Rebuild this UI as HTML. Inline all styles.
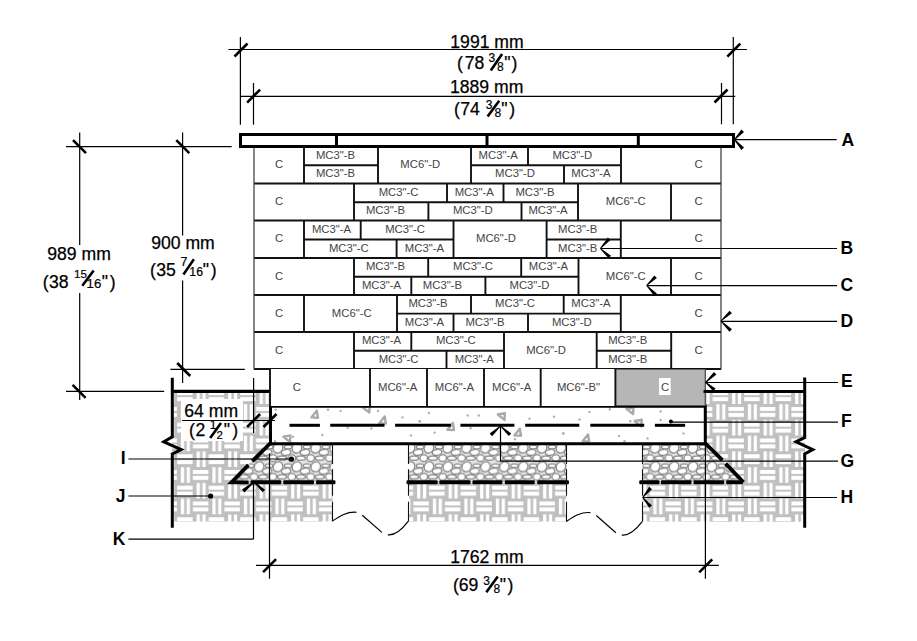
<!DOCTYPE html><html><head><meta charset="utf-8"><style>html,body{margin:0;padding:0;background:#fff;width:917px;height:641px;overflow:hidden}svg{display:block}text{font-family:"Liberation Sans", sans-serif}</style></head><body>
<svg width="917" height="641" viewBox="0 0 917 641">
<defs>
<pattern id="soil" patternUnits="userSpaceOnUse" width="31.5" height="31.5" x="3.7" y="26"><rect width="31.5" height="31.5" fill="#bfbfbf"/><rect x="0.2" y="3.0" width="15.45" height="4.0" fill="#fff"/><rect x="0.2" y="8.9" width="15.45" height="4.0" fill="#fff"/><rect x="19.65" y="0.2" width="3.3" height="15.55" fill="#fff"/><rect x="25.45" y="0.2" width="3.3" height="15.55" fill="#fff"/><rect x="3.9" y="15.95" width="3.3" height="15.55" fill="#fff"/><rect x="9.7" y="15.95" width="3.3" height="15.55" fill="#fff"/><rect x="15.95" y="18.75" width="15.45" height="4.0" fill="#fff"/><rect x="15.95" y="24.65" width="15.45" height="4.0" fill="#fff"/></pattern>
<pattern id="gravel" patternUnits="userSpaceOnUse" width="18.86" height="18.75" x="10.08" y="11.75"><rect width="18.86" height="18.75" fill="#e6e6e6"/><g fill="#fff" stroke="#858585" stroke-width="1.25"><ellipse cx="3.90" cy="5.00" rx="5.2" ry="4.6" transform="rotate(-55 3.90 5.00)"/><ellipse cx="3.90" cy="23.75" rx="5.2" ry="4.6" transform="rotate(-55 3.90 23.75)"/><ellipse cx="22.76" cy="5.00" rx="5.2" ry="4.6" transform="rotate(-55 22.76 5.00)"/><ellipse cx="22.76" cy="23.75" rx="5.2" ry="4.6" transform="rotate(-55 22.76 23.75)"/><ellipse cx="12.00" cy="9.40" rx="4.8" ry="2.9" transform="rotate(-8 12.00 9.40)"/><ellipse cx="-1.21" cy="-3.65" rx="3.9" ry="3.4" transform="rotate(0 -1.21 -3.65)"/><ellipse cx="-1.21" cy="15.10" rx="3.9" ry="3.4" transform="rotate(0 -1.21 15.10)"/><ellipse cx="17.65" cy="-3.65" rx="3.9" ry="3.4" transform="rotate(0 17.65 -3.65)"/><ellipse cx="17.65" cy="15.10" rx="3.9" ry="3.4" transform="rotate(0 17.65 15.10)"/><ellipse cx="7.90" cy="15.05" rx="4.5" ry="2.2" transform="rotate(0 7.90 15.05)"/><ellipse cx="14.00" cy="3.90" rx="3.8" ry="1.9" transform="rotate(0 14.00 3.90)"/></g></pattern>
</defs>
<rect width="917" height="641" fill="#fff"/>
<path d="M172,391 H270 V521.5 H172 Z" fill="url(#soil)"/>
<path d="M270,443 L332.5,443 L332.5,521.5 L270,521.5 Z" fill="url(#soil)"/>
<rect x="409" y="443" width="157.5" height="78.5" fill="url(#soil)"/>
<rect x="642.7" y="443" width="162" height="78.5" fill="url(#soil)"/>
<rect x="705" y="391" width="100" height="130.5" fill="url(#soil)"/>
<rect x="181" y="399" width="62" height="42" fill="#fff"/>
<path d="M269.5,443 L332.5,443 L332.5,482 L231,482 Z" fill="url(#gravel)"/>
<rect x="409" y="443" width="157.5" height="39" fill="url(#gravel)"/>
<path d="M642.7,443 L705,443 L744,482 L642.7,482 Z" fill="url(#gravel)"/>
<rect x="270" y="406" width="435.5" height="38" fill="#fff"/>
<path d="M311.4,417.4 L318.0,417.8 L316.8,410.7 Z" transform="rotate(0 315 414.6)" fill="none" stroke="#a9a9a9" stroke-width="2.4" stroke-linejoin="round"/>
<path d="M362.9,411.8 L369.5,412.2 L368.3,405.1 Z" transform="rotate(-90 366.5 409)" fill="none" stroke="#a9a9a9" stroke-width="2.4" stroke-linejoin="round"/>
<path d="M379.3,423.2 L385.9,423.6 L384.7,416.5 Z" transform="rotate(0 382.9 420.4)" fill="none" stroke="#a9a9a9" stroke-width="2.4" stroke-linejoin="round"/>
<path d="M283.6,441.2 L290.2,441.6 L289.0,434.5 Z" transform="rotate(-90 287.2 438.4)" fill="none" stroke="#a9a9a9" stroke-width="2.4" stroke-linejoin="round"/>
<path d="M447.4,429.7 L454.0,430.1 L452.8,423.0 Z" transform="rotate(0 451 426.9)" fill="none" stroke="#a9a9a9" stroke-width="2.4" stroke-linejoin="round"/>
<path d="M498.1,419.1 L504.7,419.5 L503.5,412.4 Z" transform="rotate(-90 501.7 416.3)" fill="none" stroke="#a9a9a9" stroke-width="2.4" stroke-linejoin="round"/>
<path d="M514.4,435.4 L521.0,435.8 L519.8,428.7 Z" transform="rotate(0 518 432.6)" fill="none" stroke="#a9a9a9" stroke-width="2.4" stroke-linejoin="round"/>
<path d="M626.7,413.3 L633.3,413.7 L632.1,406.6 Z" transform="rotate(-90 630.3 410.5)" fill="none" stroke="#a9a9a9" stroke-width="2.4" stroke-linejoin="round"/>
<path d="M634.9,425.6 L641.5,426.0 L640.3,418.9 Z" transform="rotate(-90 638.5 422.8)" fill="none" stroke="#a9a9a9" stroke-width="2.4" stroke-linejoin="round"/>
<path d="M582.6,441.2 L589.2,441.6 L588.0,434.5 Z" transform="rotate(0 586.2 438.4)" fill="none" stroke="#a9a9a9" stroke-width="2.4" stroke-linejoin="round"/>
<circle cx="275.7" cy="409.7" r="1.2" fill="#b0b0b0"/>
<circle cx="328" cy="409.7" r="1.2" fill="#b0b0b0"/>
<circle cx="340.7" cy="410.9" r="1.2" fill="#b0b0b0"/>
<circle cx="378" cy="410.9" r="1.2" fill="#b0b0b0"/>
<circle cx="402.5" cy="417.4" r="1.2" fill="#b0b0b0"/>
<circle cx="322.3" cy="435" r="1.2" fill="#b0b0b0"/>
<circle cx="292.9" cy="436.7" r="1.2" fill="#b0b0b0"/>
<circle cx="275" cy="441.3" r="1.2" fill="#b0b0b0"/>
<circle cx="347.7" cy="427.7" r="1.2" fill="#b0b0b0"/>
<circle cx="371.4" cy="428.5" r="1.2" fill="#b0b0b0"/>
<circle cx="411" cy="435.4" r="1.2" fill="#b0b0b0"/>
<circle cx="419.7" cy="421.2" r="1.2" fill="#b0b0b0"/>
<circle cx="428.9" cy="413" r="1.2" fill="#b0b0b0"/>
<circle cx="419.9" cy="421.2" r="1.2" fill="#b0b0b0"/>
<circle cx="467.7" cy="415.5" r="1.2" fill="#b0b0b0"/>
<circle cx="478.8" cy="415.5" r="1.2" fill="#b0b0b0"/>
<circle cx="434.6" cy="432.6" r="1.2" fill="#b0b0b0"/>
<circle cx="470.6" cy="428.2" r="1.2" fill="#b0b0b0"/>
<circle cx="529.5" cy="418.7" r="1.2" fill="#b0b0b0"/>
<circle cx="554" cy="416.8" r="1.2" fill="#b0b0b0"/>
<circle cx="563" cy="433.4" r="1.2" fill="#b0b0b0"/>
<circle cx="515" cy="439.2" r="1.2" fill="#b0b0b0"/>
<circle cx="589.4" cy="411.9" r="1.2" fill="#b0b0b0"/>
<circle cx="579.6" cy="419.5" r="1.2" fill="#b0b0b0"/>
<circle cx="609.9" cy="409.2" r="1.2" fill="#b0b0b0"/>
<circle cx="660.6" cy="411.4" r="1.2" fill="#b0b0b0"/>
<circle cx="660.6" cy="420" r="1.2" fill="#b0b0b0"/>
<circle cx="630.3" cy="421.2" r="1.2" fill="#b0b0b0"/>
<circle cx="563.6" cy="433.4" r="1.2" fill="#b0b0b0"/>
<circle cx="618.9" cy="435.9" r="1.2" fill="#b0b0b0"/>
<circle cx="647.5" cy="438.4" r="1.2" fill="#b0b0b0"/>
<circle cx="683.5" cy="433.4" r="1.2" fill="#b0b0b0"/>
<circle cx="624.6" cy="441.3" r="1.2" fill="#b0b0b0"/>
<path d="M270.5,406.3 H705.3 V443.7 H270.5 Z" fill="none" stroke="#000" stroke-width="3"/>
<line x1="289.5" y1="425.3" x2="319.9" y2="425.3" stroke="#000" stroke-width="3"/>
<line x1="330.2" y1="425.3" x2="384.5" y2="425.3" stroke="#000" stroke-width="3"/>
<line x1="395.1" y1="425.3" x2="450.8" y2="425.3" stroke="#000" stroke-width="3"/>
<line x1="460.4" y1="425.3" x2="514.4" y2="425.3" stroke="#000" stroke-width="3"/>
<line x1="525.2" y1="425.3" x2="579.3" y2="425.3" stroke="#000" stroke-width="3"/>
<line x1="590.3" y1="425.3" x2="644.2" y2="425.3" stroke="#000" stroke-width="3"/>
<line x1="654.9" y1="425.3" x2="685.1" y2="425.3" stroke="#000" stroke-width="3"/>
<rect x="254" y="147" width="467" height="222" fill="#fff"/>
<line x1="304" y1="147" x2="304" y2="183.5" stroke="#111" stroke-width="1.9"/>
<line x1="304" y1="165.2" x2="378" y2="165.2" stroke="#111" stroke-width="1.9"/>
<line x1="378" y1="147" x2="378" y2="183.5" stroke="#111" stroke-width="1.9"/>
<line x1="471" y1="147" x2="471" y2="183.5" stroke="#111" stroke-width="1.9"/>
<line x1="471" y1="165.2" x2="621" y2="165.2" stroke="#111" stroke-width="1.9"/>
<line x1="528" y1="147" x2="528" y2="165.2" stroke="#111" stroke-width="1.9"/>
<line x1="564" y1="165.2" x2="564" y2="183.5" stroke="#111" stroke-width="1.9"/>
<line x1="621" y1="147" x2="621" y2="183.5" stroke="#111" stroke-width="1.9"/>
<line x1="354" y1="183.5" x2="354" y2="220.5" stroke="#111" stroke-width="1.9"/>
<line x1="354" y1="202.2" x2="578" y2="202.2" stroke="#111" stroke-width="1.9"/>
<line x1="447" y1="183.5" x2="447" y2="202.2" stroke="#111" stroke-width="1.9"/>
<line x1="503.5" y1="183.5" x2="503.5" y2="202.2" stroke="#111" stroke-width="1.9"/>
<line x1="428.4" y1="202.2" x2="428.4" y2="220.5" stroke="#111" stroke-width="1.9"/>
<line x1="521.5" y1="202.2" x2="521.5" y2="220.5" stroke="#111" stroke-width="1.9"/>
<line x1="578" y1="183.5" x2="578" y2="220.5" stroke="#111" stroke-width="1.9"/>
<line x1="671" y1="183.5" x2="671" y2="220.5" stroke="#111" stroke-width="1.9"/>
<line x1="304" y1="220.5" x2="304" y2="258" stroke="#111" stroke-width="1.9"/>
<line x1="304" y1="239.5" x2="453.5" y2="239.5" stroke="#111" stroke-width="1.9"/>
<line x1="360.7" y1="220.5" x2="360.7" y2="239.5" stroke="#111" stroke-width="1.9"/>
<line x1="396.6" y1="239.5" x2="396.6" y2="258" stroke="#111" stroke-width="1.9"/>
<line x1="453.5" y1="220.5" x2="453.5" y2="258" stroke="#111" stroke-width="1.9"/>
<line x1="546.6" y1="220.5" x2="546.6" y2="258" stroke="#111" stroke-width="1.9"/>
<line x1="546.6" y1="239.5" x2="620.8" y2="239.5" stroke="#111" stroke-width="1.9"/>
<line x1="620.8" y1="220.5" x2="620.8" y2="258" stroke="#111" stroke-width="1.9"/>
<line x1="354" y1="258" x2="354" y2="295" stroke="#111" stroke-width="1.9"/>
<line x1="354" y1="276.8" x2="578.5" y2="276.8" stroke="#111" stroke-width="1.9"/>
<line x1="428.2" y1="258" x2="428.2" y2="276.8" stroke="#111" stroke-width="1.9"/>
<line x1="521.2" y1="258" x2="521.2" y2="276.8" stroke="#111" stroke-width="1.9"/>
<line x1="411.3" y1="276.8" x2="411.3" y2="295" stroke="#111" stroke-width="1.9"/>
<line x1="485.4" y1="276.8" x2="485.4" y2="295" stroke="#111" stroke-width="1.9"/>
<line x1="578.5" y1="258" x2="578.5" y2="295" stroke="#111" stroke-width="1.9"/>
<line x1="671" y1="258" x2="671" y2="295" stroke="#111" stroke-width="1.9"/>
<line x1="304" y1="295" x2="304" y2="332" stroke="#111" stroke-width="1.9"/>
<line x1="397" y1="295" x2="397" y2="332" stroke="#111" stroke-width="1.9"/>
<line x1="397" y1="313.6" x2="620.8" y2="313.6" stroke="#111" stroke-width="1.9"/>
<line x1="471" y1="295" x2="471" y2="313.6" stroke="#111" stroke-width="1.9"/>
<line x1="563.7" y1="295" x2="563.7" y2="313.6" stroke="#111" stroke-width="1.9"/>
<line x1="453.5" y1="313.6" x2="453.5" y2="332" stroke="#111" stroke-width="1.9"/>
<line x1="528" y1="313.6" x2="528" y2="332" stroke="#111" stroke-width="1.9"/>
<line x1="620.8" y1="295" x2="620.8" y2="332" stroke="#111" stroke-width="1.9"/>
<line x1="354" y1="332" x2="354" y2="369" stroke="#111" stroke-width="1.9"/>
<line x1="354" y1="350.8" x2="504" y2="350.8" stroke="#111" stroke-width="1.9"/>
<line x1="411.3" y1="332" x2="411.3" y2="350.8" stroke="#111" stroke-width="1.9"/>
<line x1="446.5" y1="350.8" x2="446.5" y2="369" stroke="#111" stroke-width="1.9"/>
<line x1="504" y1="332" x2="504" y2="369" stroke="#111" stroke-width="1.9"/>
<line x1="596.7" y1="332" x2="596.7" y2="369" stroke="#111" stroke-width="1.9"/>
<line x1="596.7" y1="350.8" x2="671.2" y2="350.8" stroke="#111" stroke-width="1.9"/>
<line x1="671.2" y1="332" x2="671.2" y2="369" stroke="#111" stroke-width="1.9"/>
<line x1="254" y1="183.5" x2="721" y2="183.5" stroke="#111" stroke-width="1.9"/>
<line x1="254" y1="220.5" x2="721" y2="220.5" stroke="#111" stroke-width="1.9"/>
<line x1="254" y1="258" x2="721" y2="258" stroke="#111" stroke-width="1.9"/>
<line x1="254" y1="295" x2="721" y2="295" stroke="#111" stroke-width="1.9"/>
<line x1="254" y1="332" x2="721" y2="332" stroke="#111" stroke-width="1.9"/>
<line x1="254" y1="369" x2="721" y2="369" stroke="#111" stroke-width="1.9"/>
<line x1="254" y1="147" x2="254" y2="369.5" stroke="#444" stroke-width="1.3"/>
<line x1="721" y1="147" x2="721" y2="369.5" stroke="#333" stroke-width="1.2"/>
<rect x="270" y="369" width="345.4" height="37" fill="#fff"/>
<rect x="615.4" y="369.5" width="90" height="36" fill="#b6b6b6"/>
<line x1="270" y1="369" x2="270" y2="406" stroke="#111" stroke-width="1.9"/>
<line x1="370" y1="369" x2="370" y2="406" stroke="#111" stroke-width="1.9"/>
<line x1="427" y1="369" x2="427" y2="406" stroke="#111" stroke-width="1.9"/>
<line x1="484" y1="369" x2="484" y2="406" stroke="#111" stroke-width="1.9"/>
<line x1="540.7" y1="369" x2="540.7" y2="406" stroke="#111" stroke-width="1.9"/>
<line x1="615.4" y1="369" x2="615.4" y2="406" stroke="#111" stroke-width="1.9"/>
<line x1="705.3" y1="369" x2="705.3" y2="406" stroke="#444" stroke-width="1.2"/>
<rect x="659" y="378" width="11.7" height="17" fill="#fff"/>
<text transform="translate(279.0,168.2) scale(1.1,1)" font-size="10.3" fill="#444" text-anchor="middle">C</text>
<text transform="translate(335.5,159.1) scale(1.1,1)" font-size="10.3" fill="#444" text-anchor="middle">MC3&quot;-B</text>
<text transform="translate(335.5,177.3) scale(1.1,1)" font-size="10.3" fill="#444" text-anchor="middle">MC3&quot;-B</text>
<text transform="translate(420.2,168.2) scale(1.1,1)" font-size="10.3" fill="#444" text-anchor="middle">MC6&quot;-D</text>
<text transform="translate(498.2,159.1) scale(1.1,1)" font-size="10.3" fill="#444" text-anchor="middle">MC3&quot;-A</text>
<text transform="translate(572.3,159.1) scale(1.1,1)" font-size="10.3" fill="#444" text-anchor="middle">MC3&quot;-D</text>
<text transform="translate(515.0,177.3) scale(1.1,1)" font-size="10.3" fill="#444" text-anchor="middle">MC3&quot;-D</text>
<text transform="translate(590.9,177.3) scale(1.1,1)" font-size="10.3" fill="#444" text-anchor="middle">MC3&quot;-A</text>
<text transform="translate(698.6,168.2) scale(1.1,1)" font-size="10.3" fill="#444" text-anchor="middle">C</text>
<text transform="translate(279.0,205.0) scale(1.1,1)" font-size="10.3" fill="#444" text-anchor="middle">C</text>
<text transform="translate(398.6,195.8) scale(1.1,1)" font-size="10.3" fill="#444" text-anchor="middle">MC3&quot;-C</text>
<text transform="translate(474.3,195.8) scale(1.1,1)" font-size="10.3" fill="#444" text-anchor="middle">MC3&quot;-A</text>
<text transform="translate(535.0,195.8) scale(1.1,1)" font-size="10.3" fill="#444" text-anchor="middle">MC3&quot;-B</text>
<text transform="translate(385.5,214.3) scale(1.1,1)" font-size="10.3" fill="#444" text-anchor="middle">MC3&quot;-B</text>
<text transform="translate(472.8,214.3) scale(1.1,1)" font-size="10.3" fill="#444" text-anchor="middle">MC3&quot;-D</text>
<text transform="translate(548.0,214.3) scale(1.1,1)" font-size="10.3" fill="#444" text-anchor="middle">MC3&quot;-A</text>
<text transform="translate(625.7,205.0) scale(1.1,1)" font-size="10.3" fill="#444" text-anchor="middle">MC6&quot;-C</text>
<text transform="translate(698.6,205.0) scale(1.1,1)" font-size="10.3" fill="#444" text-anchor="middle">C</text>
<text transform="translate(279.0,242.2) scale(1.1,1)" font-size="10.3" fill="#444" text-anchor="middle">C</text>
<text transform="translate(331.5,233.0) scale(1.1,1)" font-size="10.3" fill="#444" text-anchor="middle">MC3&quot;-A</text>
<text transform="translate(405.1,233.0) scale(1.1,1)" font-size="10.3" fill="#444" text-anchor="middle">MC3&quot;-C</text>
<text transform="translate(348.8,251.8) scale(1.1,1)" font-size="10.3" fill="#444" text-anchor="middle">MC3&quot;-C</text>
<text transform="translate(424.4,251.8) scale(1.1,1)" font-size="10.3" fill="#444" text-anchor="middle">MC3&quot;-A</text>
<text transform="translate(495.9,242.2) scale(1.1,1)" font-size="10.3" fill="#444" text-anchor="middle">MC6&quot;-D</text>
<text transform="translate(577.7,233.0) scale(1.1,1)" font-size="10.3" fill="#444" text-anchor="middle">MC3&quot;-B</text>
<text transform="translate(577.7,251.8) scale(1.1,1)" font-size="10.3" fill="#444" text-anchor="middle">MC3&quot;-B</text>
<text transform="translate(698.6,242.2) scale(1.1,1)" font-size="10.3" fill="#444" text-anchor="middle">C</text>
<text transform="translate(279.0,279.5) scale(1.1,1)" font-size="10.3" fill="#444" text-anchor="middle">C</text>
<text transform="translate(385.5,270.4) scale(1.1,1)" font-size="10.3" fill="#444" text-anchor="middle">MC3&quot;-B</text>
<text transform="translate(473.0,270.4) scale(1.1,1)" font-size="10.3" fill="#444" text-anchor="middle">MC3&quot;-C</text>
<text transform="translate(548.4,270.4) scale(1.1,1)" font-size="10.3" fill="#444" text-anchor="middle">MC3&quot;-A</text>
<text transform="translate(381.5,288.9) scale(1.1,1)" font-size="10.3" fill="#444" text-anchor="middle">MC3&quot;-A</text>
<text transform="translate(442.4,288.9) scale(1.1,1)" font-size="10.3" fill="#444" text-anchor="middle">MC3&quot;-B</text>
<text transform="translate(529.4,288.9) scale(1.1,1)" font-size="10.3" fill="#444" text-anchor="middle">MC3&quot;-D</text>
<text transform="translate(625.7,279.5) scale(1.1,1)" font-size="10.3" fill="#444" text-anchor="middle">MC6&quot;-C</text>
<text transform="translate(698.6,279.5) scale(1.1,1)" font-size="10.3" fill="#444" text-anchor="middle">C</text>
<text transform="translate(279.0,316.5) scale(1.1,1)" font-size="10.3" fill="#444" text-anchor="middle">C</text>
<text transform="translate(351.7,316.5) scale(1.1,1)" font-size="10.3" fill="#444" text-anchor="middle">MC6&quot;-C</text>
<text transform="translate(428.0,307.3) scale(1.1,1)" font-size="10.3" fill="#444" text-anchor="middle">MC3&quot;-B</text>
<text transform="translate(515.0,307.3) scale(1.1,1)" font-size="10.3" fill="#444" text-anchor="middle">MC3&quot;-C</text>
<text transform="translate(590.9,307.3) scale(1.1,1)" font-size="10.3" fill="#444" text-anchor="middle">MC3&quot;-A</text>
<text transform="translate(424.4,325.8) scale(1.1,1)" font-size="10.3" fill="#444" text-anchor="middle">MC3&quot;-A</text>
<text transform="translate(485.0,325.8) scale(1.1,1)" font-size="10.3" fill="#444" text-anchor="middle">MC3&quot;-B</text>
<text transform="translate(571.8,325.8) scale(1.1,1)" font-size="10.3" fill="#444" text-anchor="middle">MC3&quot;-D</text>
<text transform="translate(698.6,316.5) scale(1.1,1)" font-size="10.3" fill="#444" text-anchor="middle">C</text>
<text transform="translate(279.0,353.5) scale(1.1,1)" font-size="10.3" fill="#444" text-anchor="middle">C</text>
<text transform="translate(381.5,344.4) scale(1.1,1)" font-size="10.3" fill="#444" text-anchor="middle">MC3&quot;-A</text>
<text transform="translate(455.8,344.4) scale(1.1,1)" font-size="10.3" fill="#444" text-anchor="middle">MC3&quot;-C</text>
<text transform="translate(398.6,362.9) scale(1.1,1)" font-size="10.3" fill="#444" text-anchor="middle">MC3&quot;-C</text>
<text transform="translate(474.3,362.9) scale(1.1,1)" font-size="10.3" fill="#444" text-anchor="middle">MC3&quot;-A</text>
<text transform="translate(546.1,353.5) scale(1.1,1)" font-size="10.3" fill="#444" text-anchor="middle">MC6&quot;-D</text>
<text transform="translate(627.8,344.4) scale(1.1,1)" font-size="10.3" fill="#444" text-anchor="middle">MC3&quot;-B</text>
<text transform="translate(627.8,362.9) scale(1.1,1)" font-size="10.3" fill="#444" text-anchor="middle">MC3&quot;-B</text>
<text transform="translate(698.6,353.5) scale(1.1,1)" font-size="10.3" fill="#444" text-anchor="middle">C</text>
<text transform="translate(296.8,390.5) scale(1.1,1)" font-size="10.3" fill="#444" text-anchor="middle">C</text>
<text transform="translate(397.6,390.5) scale(1.1,1)" font-size="10.3" fill="#444" text-anchor="middle">MC6&quot;-A</text>
<text transform="translate(454.4,390.5) scale(1.1,1)" font-size="10.3" fill="#444" text-anchor="middle">MC6&quot;-A</text>
<text transform="translate(511.7,390.5) scale(1.1,1)" font-size="10.3" fill="#444" text-anchor="middle">MC6&quot;-A</text>
<text transform="translate(578.5,390.5) scale(1.1,1)" font-size="10.3" fill="#444" text-anchor="middle">MC6&quot;-B&quot;</text>
<text transform="translate(665.2,390.5) scale(1.1,1)" font-size="10.3" fill="#444" text-anchor="middle">C</text>
<rect x="240.5" y="134.5" width="493" height="12" fill="#fff" stroke="#000" stroke-width="3"/>
<line x1="336.5" y1="134" x2="336.5" y2="147" stroke="#000" stroke-width="3"/>
<line x1="487" y1="134" x2="487" y2="147" stroke="#000" stroke-width="3"/>
<line x1="638.3" y1="134" x2="638.3" y2="147" stroke="#000" stroke-width="3"/>
<line x1="228.4" y1="49.5" x2="746.9" y2="49.5" stroke="#000" stroke-width="1.2"/>
<line x1="240.4" y1="96.3" x2="735.2" y2="96.3" stroke="#000" stroke-width="1.2"/>
<line x1="240.4" y1="37" x2="240.4" y2="124.7" stroke="#000" stroke-width="1.2"/>
<line x1="253.5" y1="83" x2="253.5" y2="124.7" stroke="#000" stroke-width="1.2"/>
<line x1="733.3" y1="37" x2="733.3" y2="124.3" stroke="#000" stroke-width="1.2"/>
<line x1="721.5" y1="83" x2="721.5" y2="124.3" stroke="#000" stroke-width="1.2"/>
<line x1="234.5" y1="56.5" x2="247.5" y2="43.5" stroke="#000" stroke-width="2.6"/>
<line x1="247.1" y1="102.6" x2="260.1" y2="89.6" stroke="#000" stroke-width="2.6"/>
<line x1="727.3" y1="56.6" x2="740.3" y2="43.6" stroke="#000" stroke-width="2.6"/>
<line x1="714.5" y1="102.5" x2="727.5" y2="89.5" stroke="#000" stroke-width="2.6"/>
<line x1="66" y1="146.7" x2="231.7" y2="146.7" stroke="#000" stroke-width="1.2"/>
<line x1="79.7" y1="132.6" x2="79.7" y2="245" stroke="#000" stroke-width="1.2"/>
<line x1="79.7" y1="293" x2="79.7" y2="400" stroke="#000" stroke-width="1.2"/>
<line x1="182.6" y1="132.6" x2="182.6" y2="235.4" stroke="#000" stroke-width="1.2"/>
<line x1="182.6" y1="280.4" x2="182.6" y2="383" stroke="#000" stroke-width="1.2"/>
<line x1="170.4" y1="369.4" x2="244.8" y2="369.4" stroke="#000" stroke-width="1.2"/>
<line x1="66" y1="391.4" x2="164.2" y2="391.4" stroke="#000" stroke-width="1.2"/>
<line x1="73.0" y1="140.2" x2="86.0" y2="153.2" stroke="#000" stroke-width="2.6"/>
<line x1="176.3" y1="140.2" x2="189.3" y2="153.2" stroke="#000" stroke-width="2.6"/>
<line x1="177.2" y1="363.0" x2="190.2" y2="376.0" stroke="#000" stroke-width="2.6"/>
<line x1="72.6" y1="384.9" x2="85.6" y2="397.9" stroke="#000" stroke-width="2.6"/>
<line x1="182" y1="420.5" x2="275" y2="420.5" stroke="#000" stroke-width="1.2"/>
<line x1="253.6" y1="378" x2="253.6" y2="433" stroke="#000" stroke-width="1.2"/>
<line x1="247.1" y1="427.0" x2="260.1" y2="414.0" stroke="#000" stroke-width="2.6"/>
<line x1="263.5" y1="427.0" x2="276.5" y2="414.0" stroke="#000" stroke-width="2.6"/>
<line x1="256" y1="565.3" x2="718.7" y2="565.3" stroke="#000" stroke-width="1.2"/>
<line x1="269.5" y1="453.3" x2="269.5" y2="578.7" stroke="#000" stroke-width="1.2"/>
<line x1="705.4" y1="443" x2="705.4" y2="578.7" stroke="#000" stroke-width="1.2"/>
<line x1="263.1" y1="572.2" x2="276.1" y2="559.2" stroke="#000" stroke-width="2.6"/>
<line x1="699.2" y1="572.3" x2="712.2" y2="559.3" stroke="#000" stroke-width="2.6"/>
<path d="M172.3,377.7 V436.8 L163.8,441.8 L181.2,449.6 L172.3,454 V527.8" fill="none" stroke="#000" stroke-width="3"/>
<line x1="172" y1="391.4" x2="270" y2="391.4" stroke="#000" stroke-width="3.2"/>
<path d="M804.7,377.6 V437.5 L796,441.8 L812.8,449.6 L804.7,454 V527.8" fill="none" stroke="#000" stroke-width="3"/>
<line x1="703.5" y1="391.4" x2="804.6" y2="391.4" stroke="#000" stroke-width="3"/>
<path d="M270.5,443 L252.3,461.2" fill="none" stroke="#000" stroke-width="3.8"/><path d="M248.4,465 L231.5,482.3 H248.6" fill="none" stroke="#000" stroke-width="3.8" stroke-linejoin="miter"/>
<path d="M705,443 L722.4,460.1 M725.6,463.6 L743.5,482.3" fill="none" stroke="#000" stroke-width="3.8"/>
<rect x="250.5" y="480.3" width="30.8" height="4" rx="1.3" fill="#000"/>
<rect x="283.2" y="480.3" width="30.8" height="4" rx="1.3" fill="#000"/>
<rect x="316.0" y="480.3" width="19.5" height="4" rx="1.3" fill="#000"/>
<rect x="406.5" y="480.3" width="31.2" height="4" rx="1.3" fill="#000"/>
<rect x="439.3" y="480.3" width="31.2" height="4" rx="1.3" fill="#000"/>
<rect x="472.4" y="480.3" width="30.0" height="4" rx="1.3" fill="#000"/>
<rect x="504.8" y="480.3" width="30.0" height="4" rx="1.3" fill="#000"/>
<rect x="537.2" y="480.3" width="31.8" height="4" rx="1.3" fill="#000"/>
<rect x="639.2" y="480.3" width="20.3" height="4" rx="1.3" fill="#000"/>
<rect x="660.8" y="480.3" width="30.7" height="4" rx="1.3" fill="#000"/>
<rect x="693.5" y="480.3" width="30.7" height="4" rx="1.3" fill="#000"/>
<rect x="726.2" y="480.3" width="16.8" height="4" rx="1.3" fill="#000"/>
<line x1="332.5" y1="443" x2="332.5" y2="464" stroke="#111" stroke-width="1.1"/>
<line x1="332.5" y1="469.2" x2="332.5" y2="495.7" stroke="#111" stroke-width="1.1"/>
<line x1="332.5" y1="501.7" x2="332.5" y2="521.2" stroke="#111" stroke-width="1.1"/>
<line x1="408.5" y1="443" x2="408.5" y2="464" stroke="#111" stroke-width="1.1"/>
<line x1="408.5" y1="469.2" x2="408.5" y2="495.7" stroke="#111" stroke-width="1.1"/>
<line x1="408.5" y1="501.7" x2="408.5" y2="521.2" stroke="#111" stroke-width="1.1"/>
<line x1="566.5" y1="443" x2="566.5" y2="464" stroke="#111" stroke-width="1.1"/>
<line x1="566.5" y1="469.2" x2="566.5" y2="495.7" stroke="#111" stroke-width="1.1"/>
<line x1="566.5" y1="501.7" x2="566.5" y2="521.2" stroke="#111" stroke-width="1.1"/>
<line x1="642.5" y1="443" x2="642.5" y2="464" stroke="#111" stroke-width="1.1"/>
<line x1="642.5" y1="469.2" x2="642.5" y2="495.7" stroke="#111" stroke-width="1.1"/>
<line x1="642.5" y1="501.7" x2="642.5" y2="521.2" stroke="#111" stroke-width="1.1"/>
<path d="M332.4,521.1 C340.0,516.0 347.0,511.5 356.4,512.3" fill="none" stroke="#000" stroke-width="1.2"/>
<path d="M362.3,515.2 L381.9,532.4" fill="none" stroke="#000" stroke-width="1.2"/>
<path d="M387.8,534.8 C393.0,535.5 400.0,532.0 408.4,521.1" fill="none" stroke="#000" stroke-width="1.2"/>
<path d="M566.4,521.4 C574.0,516.3 581.0,511.8 590.4,512.6" fill="none" stroke="#000" stroke-width="1.2"/>
<path d="M596.3,515.5 L615.9,532.7" fill="none" stroke="#000" stroke-width="1.2"/>
<path d="M621.8,535.1 C627.0,535.8 634.0,532.3 642.4,521.4" fill="none" stroke="#000" stroke-width="1.2"/>
<path d="M734.87,140.04 L744.03,131.91 L741.37,129.49 L734.13,139.36 Z" fill="#000"/>
<path d="M734.13,140.04 L741.37,149.91 L744.03,147.49 L734.87,139.36 Z" fill="#000"/>
<line x1="734.5" y1="139.7" x2="836.7" y2="139.7" stroke="#000" stroke-width="1.2"/>
<path d="M600.67,248.84 L610.53,240.02 L607.87,237.58 L599.93,248.16 Z" fill="#000"/>
<path d="M599.97,248.87 L608.60,258.34 L611.00,255.66 L600.63,248.13 Z" fill="#000"/>
<line x1="601" y1="248.5" x2="837" y2="248.5" stroke="#000" stroke-width="1.2"/>
<path d="M646.95,285.86 L656.85,278.09 L654.35,275.51 L646.25,285.14 Z" fill="#000"/>
<path d="M646.24,285.85 L654.31,296.05 L656.89,293.55 L646.96,285.15 Z" fill="#000"/>
<line x1="647" y1="285.7" x2="837" y2="285.7" stroke="#000" stroke-width="1.2"/>
<path d="M721.24,321.37 L731.92,313.33 L729.48,310.67 L720.56,320.63 Z" fill="#000"/>
<path d="M720.55,321.36 L729.45,331.79 L731.95,329.21 L721.25,320.64 Z" fill="#000"/>
<line x1="721" y1="321.3" x2="837" y2="321.3" stroke="#000" stroke-width="1.2"/>
<path d="M706.05,382.66 L716.45,374.50 L713.95,371.90 L705.35,381.94 Z" fill="#000"/>
<path d="M705.37,382.68 L713.22,391.16 L715.58,388.44 L706.03,381.92 Z" fill="#000"/>
<line x1="705.5" y1="382.5" x2="838" y2="382.5" stroke="#000" stroke-width="1.2"/>
<circle cx="670.9" cy="421.6" r="2" fill="#000"/>
<line x1="671" y1="422.2" x2="838" y2="422.2" stroke="#000" stroke-width="1.2"/>
<path d="M500.16,425.63 L489.68,433.47 L492.12,436.13 L500.84,426.37 Z" fill="#000"/>
<path d="M500.16,426.37 L508.78,436.12 L511.22,433.48 L500.84,425.63 Z" fill="#000"/>
<line x1="500.5" y1="426" x2="500.5" y2="461.2" stroke="#000" stroke-width="1.2"/>
<line x1="500.5" y1="461.2" x2="838" y2="461.2" stroke="#000" stroke-width="1.2"/>
<path d="M643.08,497.82 L651.98,489.15 L649.22,486.85 L642.32,497.18 Z" fill="#000"/>
<path d="M642.32,497.83 L649.24,507.78 L651.96,505.42 L643.08,497.17 Z" fill="#000"/>
<line x1="642.7" y1="497.5" x2="837" y2="497.5" stroke="#000" stroke-width="1.2"/>
<circle cx="291.4" cy="459" r="2.6" fill="#000"/>
<line x1="128.4" y1="459" x2="291.4" y2="459" stroke="#000" stroke-width="1.2"/>
<circle cx="210.6" cy="496" r="2.6" fill="#000"/>
<line x1="128.4" y1="496" x2="210.6" y2="496" stroke="#000" stroke-width="1.2"/>
<path d="M253.68,481.62 L242.05,489.62 L244.35,492.38 L254.32,482.38 Z" fill="#000"/>
<path d="M253.66,482.37 L262.69,492.33 L265.11,489.67 L254.34,481.63 Z" fill="#000"/>
<line x1="253.5" y1="482" x2="253.5" y2="539.2" stroke="#000" stroke-width="1.2"/>
<line x1="128.4" y1="539.2" x2="253.5" y2="539.2" stroke="#000" stroke-width="1.2"/>
<text x="841.5" y="145.7" font-size="17.5" font-weight="bold" fill="#000" text-anchor="start">A</text>
<text x="840.5" y="253.8" font-size="17.5" font-weight="bold" fill="#000" text-anchor="start">B</text>
<text x="840.5" y="291" font-size="17.5" font-weight="bold" fill="#000" text-anchor="start">C</text>
<text x="840.5" y="326.6" font-size="17.5" font-weight="bold" fill="#000" text-anchor="start">D</text>
<text x="841" y="387" font-size="17.5" font-weight="bold" fill="#000" text-anchor="start">E</text>
<text x="841" y="426.7" font-size="17.5" font-weight="bold" fill="#000" text-anchor="start">F</text>
<text x="840.5" y="466.9" font-size="17.5" font-weight="bold" fill="#000" text-anchor="start">G</text>
<text x="840.5" y="503" font-size="17.5" font-weight="bold" fill="#000" text-anchor="start">H</text>
<text x="125.5" y="464" font-size="17.5" font-weight="bold" fill="#000" text-anchor="end">I</text>
<text x="125.5" y="502" font-size="17.5" font-weight="bold" fill="#000" text-anchor="end">J</text>
<text x="125.5" y="545" font-size="17.5" font-weight="bold" fill="#000" text-anchor="end">K</text>
<text x="487.00" y="47.6" font-size="17.6" fill="#000" stroke="#000" stroke-width="0.25" text-anchor="middle">1991 mm</text>
<text x="457.11" y="68.7" font-size="17.6" fill="#000" stroke="#000" stroke-width="0.25">(</text>
<text x="464.70" y="68.7" font-size="17.6" fill="#000" stroke="#000" stroke-width="0.25">78</text>
<text x="488.54" y="61.6" font-size="12" fill="#000" stroke="#000" stroke-width="0.2">3</text>
<line x1="490.8" y1="70.4" x2="502.1" y2="54.1" stroke="#000" stroke-width="2.6"/>
<text x="496.98" y="71.3" font-size="12" fill="#000" stroke="#000" stroke-width="0.2">8</text>
<text x="504.25" y="68.7" font-size="17.6" fill="#000" stroke="#000" stroke-width="0.25">&quot;</text>
<text x="511.60" y="68.7" font-size="17.6" fill="#000" stroke="#000" stroke-width="0.25">)</text>
<text x="486.70" y="93.3" font-size="17.6" fill="#000" stroke="#000" stroke-width="0.25" text-anchor="middle">1889 mm</text>
<text x="454.11" y="115.1" font-size="17.6" fill="#000" stroke="#000" stroke-width="0.25">(</text>
<text x="460.30" y="115.1" font-size="17.6" fill="#000" stroke="#000" stroke-width="0.25">74</text>
<text x="485.74" y="109" font-size="12" fill="#000" stroke="#000" stroke-width="0.2">3</text>
<line x1="487.6" y1="116.5" x2="499.2" y2="100.7" stroke="#000" stroke-width="2.6"/>
<text x="494.48" y="117.4" font-size="12" fill="#000" stroke="#000" stroke-width="0.2">8</text>
<text x="501.25" y="115.1" font-size="17.6" fill="#000" stroke="#000" stroke-width="0.25">&quot;</text>
<text x="509.30" y="115.1" font-size="17.6" fill="#000" stroke="#000" stroke-width="0.25">)</text>
<text x="79.05" y="259.9" font-size="17.6" fill="#000" stroke="#000" stroke-width="0.25" text-anchor="middle">989 mm</text>
<text x="42.81" y="287.6" font-size="17.6" fill="#000" stroke="#000" stroke-width="0.25">(</text>
<text x="48.93" y="287.6" font-size="17.6" fill="#000" stroke="#000" stroke-width="0.25">38</text>
<text x="74.02" y="277.5" font-size="11.6" fill="#000" stroke="#000" stroke-width="0.2">15</text>
<line x1="82.3" y1="285.8" x2="93.7" y2="270.5" stroke="#000" stroke-width="2.6"/>
<text x="86.59" y="287.6" font-size="13.2" fill="#000" stroke="#000" stroke-width="0.2">16</text>
<text x="101.65" y="287.6" font-size="17.6" fill="#000" stroke="#000" stroke-width="0.25">&quot;</text>
<text x="109.70" y="287.6" font-size="17.6" fill="#000" stroke="#000" stroke-width="0.25">)</text>
<text x="182.95" y="249.2" font-size="17.6" fill="#000" stroke="#000" stroke-width="0.25" text-anchor="middle">900 mm</text>
<text x="150.01" y="275.8" font-size="17.6" fill="#000" stroke="#000" stroke-width="0.25">(</text>
<text x="156.13" y="275.8" font-size="17.6" fill="#000" stroke="#000" stroke-width="0.25">35</text>
<text x="180.56" y="266.2" font-size="12.4" fill="#000" stroke="#000" stroke-width="0.2">7</text>
<line x1="183.4" y1="274.5" x2="193.9" y2="259.2" stroke="#000" stroke-width="2.6"/>
<text x="189.37" y="275.9" font-size="12.2" fill="#000" stroke="#000" stroke-width="0.2">16</text>
<text x="202.75" y="275.8" font-size="17.6" fill="#000" stroke="#000" stroke-width="0.25">&quot;</text>
<text x="210.80" y="275.8" font-size="17.6" fill="#000" stroke="#000" stroke-width="0.25">)</text>
<text x="211.20" y="417" font-size="17.6" fill="#000" stroke="#000" stroke-width="0.25" text-anchor="middle">64 mm</text>
<text x="189.01" y="436.1" font-size="17.6" fill="#000" stroke="#000" stroke-width="0.25">(</text>
<text x="195.61" y="436.1" font-size="17.6" fill="#000" stroke="#000" stroke-width="0.25">2</text>
<text x="209.79" y="429.3" font-size="12" fill="#000" stroke="#000" stroke-width="0.2">1</text>
<line x1="210.2" y1="438.1" x2="221" y2="422.9" stroke="#000" stroke-width="2.6"/>
<text x="216.52" y="439" font-size="11.5" fill="#000" stroke="#000" stroke-width="0.2">2</text>
<text x="223.75" y="436.1" font-size="17.6" fill="#000" stroke="#000" stroke-width="0.25">&quot;</text>
<text x="232.20" y="436.1" font-size="17.6" fill="#000" stroke="#000" stroke-width="0.25">)</text>
<text x="486.90" y="563.4" font-size="17.6" fill="#000" stroke="#000" stroke-width="0.25" text-anchor="middle">1762 mm</text>
<text x="453.11" y="591.3" font-size="17.6" fill="#000" stroke="#000" stroke-width="0.25">(</text>
<text x="458.71" y="591.3" font-size="17.6" fill="#000" stroke="#000" stroke-width="0.25">69</text>
<text x="483.14" y="584.7" font-size="12" fill="#000" stroke="#000" stroke-width="0.2">3</text>
<line x1="486.3" y1="592.3" x2="497.8" y2="576.5" stroke="#000" stroke-width="2.6"/>
<text x="493.48" y="593.4" font-size="12" fill="#000" stroke="#000" stroke-width="0.2">8</text>
<text x="499.75" y="591.3" font-size="17.6" fill="#000" stroke="#000" stroke-width="0.25">&quot;</text>
<text x="507.50" y="591.3" font-size="17.6" fill="#000" stroke="#000" stroke-width="0.25">)</text>
</svg></body></html>
